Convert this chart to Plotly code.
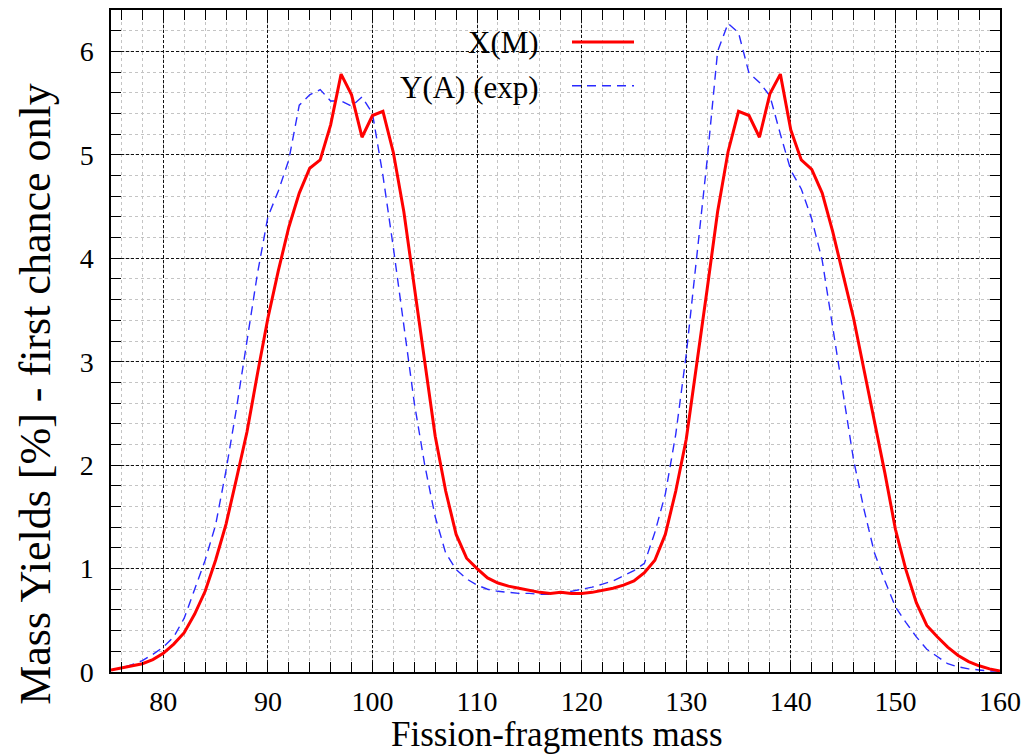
import plotly.graph_objects as go

mass = list(range(75, 161))

x_m = [0.02, 0.04, 0.06, 0.08, 0.12, 0.18, 0.27, 0.38, 0.56, 0.78,
       1.08, 1.43, 1.87, 2.32, 2.88, 3.42, 3.88, 4.30, 4.63, 4.87,
       4.95, 5.29, 5.78, 5.58, 5.17, 5.38, 5.42, 5.02, 4.45, 3.75,
       3.00, 2.28, 1.75, 1.33, 1.10, 1.00, 0.91, 0.86, 0.83, 0.81,
       0.79, 0.77, 0.76, 0.77, 0.76, 0.76, 0.77, 0.79, 0.81, 0.84,
       0.88, 0.96, 1.08, 1.33, 1.75, 2.25, 2.95, 3.70, 4.45, 5.03,
       5.42, 5.38, 5.17, 5.59, 5.78, 5.24, 4.95, 4.86, 4.63, 4.26,
       3.84, 3.42, 2.92, 2.42, 1.92, 1.38, 0.99, 0.67, 0.45, 0.34,
       0.24, 0.16, 0.10, 0.06, 0.03, 0.01]

y_a = [0.02, 0.04, 0.07, 0.11, 0.17, 0.24, 0.34, 0.52, 0.80, 1.08,
       1.42, 1.95, 2.55, 3.20, 3.85, 4.40, 4.65, 4.95, 5.48, 5.58,
       5.63, 5.52, 5.52, 5.47, 5.56, 5.40, 4.80, 4.10, 3.33, 2.60,
       2.00, 1.50, 1.15, 0.99, 0.90, 0.84, 0.80, 0.78, 0.77, 0.76,
       0.76, 0.75, 0.75, 0.77, 0.78, 0.80, 0.82, 0.85, 0.88, 0.93,
       0.98, 1.05, 1.35, 1.72, 2.30, 3.07, 4.00, 4.95, 6.00, 6.27,
       6.18, 5.79, 5.70, 5.57, 5.20, 4.85, 4.67, 4.38, 3.98, 3.35,
       2.70, 2.05, 1.57, 1.15, 0.88, 0.63, 0.48, 0.34, 0.22, 0.15,
       0.08, 0.05, 0.03, 0.02, 0.01, 0.01]

x_ticks = [80, 90, 100, 110, 120, 130, 140, 150, 160]
y_ticks = [0, 1, 2, 3, 4, 5, 6]

FONT = "Liberation Serif, Times New Roman, serif"
BLUE = "#2a2aff"

fig = go.Figure()
fig.add_trace(go.Scatter(x=mass, y=y_a, mode="lines", name="Y(A) (exp)",
                         line=dict(color=BLUE, width=1.4, dash="9px,6px")))
fig.add_trace(go.Scatter(x=mass, y=x_m, mode="lines", name="X(M)",
                         line=dict(color="#ff0000", width=3)))

axis_common = dict(
    showline=True, linecolor="black", linewidth=1.5, mirror="allticks",
    ticks="inside", ticklen=10, tickwidth=1.2, tickcolor="black",
    showgrid=True, gridcolor="#111111", gridwidth=1, griddash="3px,2px",
    zeroline=False,
    tickfont=dict(family=FONT, size=28, color="black"),
)

fig.update_xaxes(range=[75, 160], tickvals=x_ticks, ticktext=[str(v) for v in x_ticks],
                 minor=dict(dtick=2, tick0=0, ticks="inside", ticklen=10, tickwidth=1.2,
                            tickcolor="black", showgrid=True, gridcolor="#c4c4c4",
                            gridwidth=1, griddash="3px,3px"),
                 ticklabelstandoff=4,
                 **axis_common)
fig.update_yaxes(range=[0, 6.4], tickvals=y_ticks, ticktext=[str(v) for v in y_ticks],
                 minor=dict(dtick=0.2, tick0=0, ticks="inside", ticklen=10, tickwidth=1.2,
                            tickcolor="black", showgrid=True, gridcolor="#c4c4c4",
                            gridwidth=1, griddash="3px,3px"),
                 ticklabelstandoff=10,
                 **axis_common)

W, H = 1030, 755
L, R, T, B = 111, 1000, 8, 672


def px(xp):
    return (xp - L) / (R - L)


def py(yp):
    return (B - yp) / (B - T)


shapes = [
    dict(type="rect", xref="paper", yref="paper", x0=px(406), x1=px(645),
         y0=py(102), y1=py(20), fillcolor="white", line=dict(width=0), layer="between"),
    dict(type="line", xref="paper", yref="paper", x0=px(572), x1=px(634),
         y0=py(40), y1=py(40), line=dict(color="#ff0000", width=3)),
    dict(type="line", xref="paper", yref="paper", x0=px(572), x1=px(634),
         y0=py(84), y1=py(84), line=dict(color=BLUE, width=1.4, dash="9px,6px")),
]

annotations = [
    dict(text="X(M)", xref="paper", yref="paper", x=px(541), y=py(41),
         xanchor="right", yanchor="middle", showarrow=False,
         font=dict(family=FONT, size=31, color="black")),
    dict(text="Y(A) (exp)", xref="paper", yref="paper", x=px(541), y=py(86),
         xanchor="right", yanchor="middle", showarrow=False,
         font=dict(family=FONT, size=31, color="black")),
    dict(text="Fission-fragments mass", xref="paper", yref="paper", x=px(557), y=py(735),
         xanchor="center", yanchor="middle", showarrow=False,
         font=dict(family=FONT, size=35, color="black")),
    dict(text="Mass Yields [%] - first chance only", xref="paper", yref="paper",
         x=px(36), y=py(393), xanchor="center", yanchor="middle", textangle=-90,
         showarrow=False, font=dict(family=FONT, size=44, color="black")),
]

fig.update_layout(
    width=W, height=H,
    margin=dict(l=L, r=W - R, t=T, b=H - B),
    paper_bgcolor="white", plot_bgcolor="white",
    showlegend=False,
    shapes=shapes, annotations=annotations,
    font=dict(family=FONT, color="black"),
)

fig.write_html("out.html")
